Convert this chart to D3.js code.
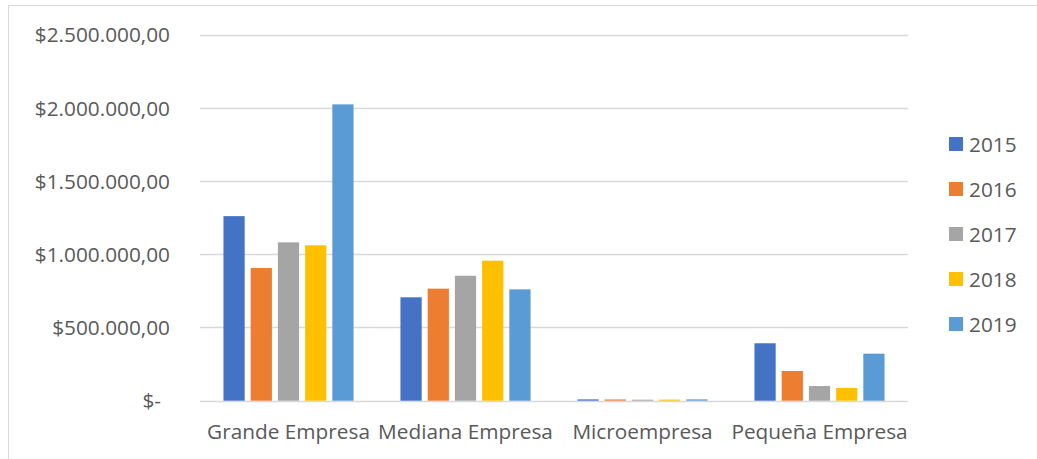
<!DOCTYPE html>
<html>
<head>
<meta charset="utf-8">
<script src="https://cdn.jsdelivr.net/npm/d3@7"></script>
<style>
  html, body { margin: 0; padding: 0; background: #ffffff; }
  svg { display: block; font-family: "Open Sans", Lato, sans-serif; }
</style>
</head>
<body>
<svg id="chart" width="1037" height="459"></svg>
<script>
// Company size categories and yearly amounts
const categories = ["Grande Empresa", "Mediana Empresa", "Microempresa", "Pequeña Empresa"];
const years = ["2015", "2016", "2017", "2018", "2019"];
const values2015 = [1260000, 706000, 9000, 392000];
const values2016 = [906000, 765000, 8500, 203000];
const values2017 = [1081000, 853000, 7000, 100000];
const values2018 = [1061000, 956000, 7500, 87000];
const values2019 = [2023000, 760000, 9000, 321000];
const seriesValues = [values2015, values2016, values2017, values2018, values2019];
const colors = ["#4472C4", "#ED7D31", "#A5A5A5", "#FFC000", "#5B9BD5"];
const yTicks = [0, 500000, 1000000, 1500000, 2000000, 2500000];
const yTickLabels = ["$-", "$500.000,00", "$1.000.000,00", "$1.500.000,00", "$2.000.000,00", "$2.500.000,00"];

const svg = d3.select("#chart");
const W = 1037, H = 459;
const plot = { left: 200, right: 908, top: 34.5, bottom: 400.7 };
const FONT = "'Open Sans', Lato, sans-serif";
const FS = "20.8px";

// chart frame edges
svg.append("line").attr("x1", 8.5).attr("x2", 8.5).attr("y1", 5).attr("y2", H)
  .attr("stroke", "#d9d9d9").attr("stroke-width", 1);
svg.append("line").attr("x1", 8).attr("x2", W).attr("y1", 5.5).attr("y2", 5.5)
  .attr("stroke", "#d9d9d9").attr("stroke-width", 1);

const y = d3.scaleLinear().domain([0, 2500000]).range([plot.bottom, plot.top]);
const x0 = d3.scaleBand().domain(categories).range([plot.left, plot.right])
  .paddingInner(0.265).paddingOuter(0.1325);
const x1 = d3.scaleBand().domain(years).range([0, x0.bandwidth()]).paddingInner(0.22);

// gridlines
svg.append("g").selectAll("line").data(yTicks).join("line")
  .attr("x1", plot.left).attr("x2", plot.right)
  .attr("y1", d => Math.round(y(d)) + 0.5).attr("y2", d => Math.round(y(d)) + 0.5)
  .attr("stroke", "#d9d9d9").attr("stroke-width", 1.4);

// y axis labels
const yAxis = d3.axisLeft(y).tickValues(yTicks).tickSize(0).tickPadding(0)
  .tickFormat((d, i) => yTickLabels[i]);
const gy = svg.append("g").attr("transform", `translate(170,0)`).call(yAxis);
gy.select(".domain").remove();
gy.selectAll("text").attr("fill", "#595959").style("font-size", FS)
  .style("font-family", FONT)
  .attr("dy", "0.35em");
gy.selectAll(".tick").filter(d => d === 0).select("text").attr("x", -9);

// bars
const groups = svg.append("g").selectAll("g").data(categories).join("g")
  .attr("transform", d => `translate(${x0(d)},0)`);
groups.selectAll("rect")
  .data((c, ci) => years.map((yr, si) => ({ yr, si, v: seriesValues[si][ci] })))
  .join("rect")
  .attr("x", d => x1(d.yr))
  .attr("width", x1.bandwidth())
  .attr("y", d => y(d.v))
  .attr("height", d => y(0) - y(d.v))
  .attr("fill", d => colors[d.si]);

// x axis labels
const xAxis = d3.axisBottom(x0).tickSize(0).tickPadding(0);
const gx = svg.append("g").attr("transform", `translate(0,439)`).call(xAxis);
gx.select(".domain").remove();
gx.selectAll("text").attr("fill", "#595959").style("font-size", FS)
  .style("font-family", FONT)
  .attr("y", 0).attr("dy", 0);

// legend
const legend = svg.append("g").selectAll("g").data(years).join("g")
  .attr("transform", (d, i) => `translate(949,${137 + i * 45})`);
legend.append("rect").attr("width", 14).attr("height", 14)
  .attr("fill", (d, i) => colors[i]);
legend.append("text").attr("x", 20).attr("y", 7).attr("dy", "0.36em")
  .attr("fill", "#595959").style("font-size", FS).style("font-family", FONT).text(d => d);
</script>
</body>
</html>
